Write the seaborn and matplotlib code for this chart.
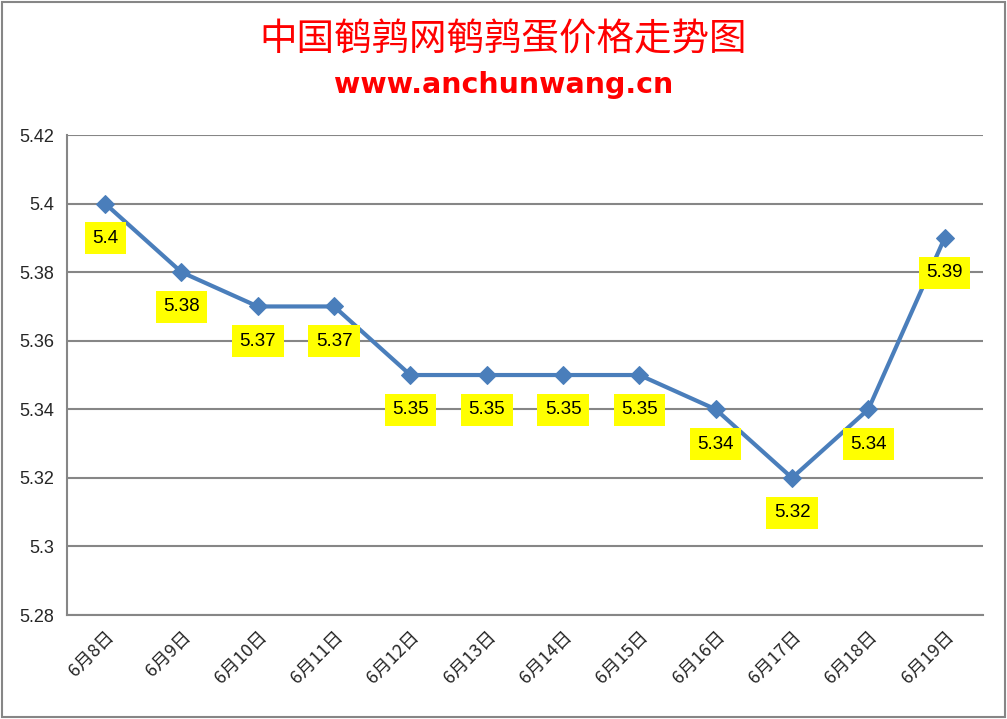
import seaborn as sns
import pandas as pd
import matplotlib
matplotlib.use("Agg")
from matplotlib import pyplot as plt
from matplotlib.patches import Rectangle

dates = ["6月8日", "6月9日", "6月10日", "6月11日", "6月12日", "6月13日",
         "6月14日", "6月15日", "6月16日", "6月17日", "6月18日", "6月19日"]
prices = [5.40, 5.38, 5.37, 5.37, 5.35, 5.35, 5.35, 5.35, 5.34, 5.32, 5.34, 5.39]
labels = ["5.4", "5.38", "5.37", "5.37", "5.35", "5.35", "5.35", "5.35", "5.34", "5.32", "5.34", "5.39"]
yticks = [5.28, 5.30, 5.32, 5.34, 5.36, 5.38, 5.40, 5.42]
ytick_labels = ["5.28", "5.3", "5.32", "5.34", "5.36", "5.38", "5.4", "5.42"]

data = pd.DataFrame({"date": dates, "price": prices})

sns.set_style("white")
plt.rcParams["font.family"] = ["Noto Sans CJK SC", "DejaVu Sans"]

fig = plt.figure(figsize=(10.07, 7.19), dpi=100)
ax = fig.add_axes([0.0665, 0.1446, 0.9095, 0.6676])

# outer border of the chart
fig.patches.append(Rectangle((0.002, 0.003), 0.996, 0.994, transform=fig.transFigure,
                             fill=False, edgecolor="#868686", linewidth=1.5))

for y in yticks:
    ax.axhline(y, color="#868686", linewidth=1.5, zorder=1)

sns.lineplot(data=data, x="date", y="price", ax=ax, color="#4A7EBB", linewidth=3,
             marker="D", markersize=9, markeredgecolor="#4A7EBB", sort=False, zorder=3)

for i, (v, t) in enumerate(zip(prices, labels)):
    ax.annotate(t, (i, v), xytext=(0, -25), textcoords="offset points", ha="center", va="center",
                fontsize=13.5, fontfamily=["Liberation Sans", "DejaVu Sans"], color="black",
                bbox=dict(boxstyle="square,pad=0.4", facecolor="#FFFF00", edgecolor="none"),
                zorder=4)

ax.set_xlim(-0.5, len(dates) - 0.5)
ax.set_ylim(5.28, 5.42)
ax.set_yticks(yticks)
ax.set_yticklabels(ytick_labels, fontsize=13, fontfamily=["Liberation Sans", "DejaVu Sans"])
ax.set_xticks(range(len(dates)))
ax.set_xticklabels(dates, rotation=45, ha="right", rotation_mode="anchor", fontsize=13)
ax.tick_params(axis="both", length=0, pad=9)
ax.set_xlabel("")
ax.set_ylabel("")
for side in ["top", "right"]:
    ax.spines[side].set_visible(False)
for side in ["left", "bottom"]:
    ax.spines[side].set_color("#868686")
    ax.spines[side].set_linewidth(1.5)

fig.text(0.5, 0.945, "中国鹌鹑网鹌鹑蛋价格走势图", ha="center", va="center",
         fontsize=27, color="#FF0000")
fig.text(0.5, 0.882, "www.anchunwang.cn", ha="center", va="center", fontsize=20.5,
         fontweight="bold", color="#FF0000", fontfamily=["DejaVu Sans"])

fig.savefig("out.png", dpi=100)
